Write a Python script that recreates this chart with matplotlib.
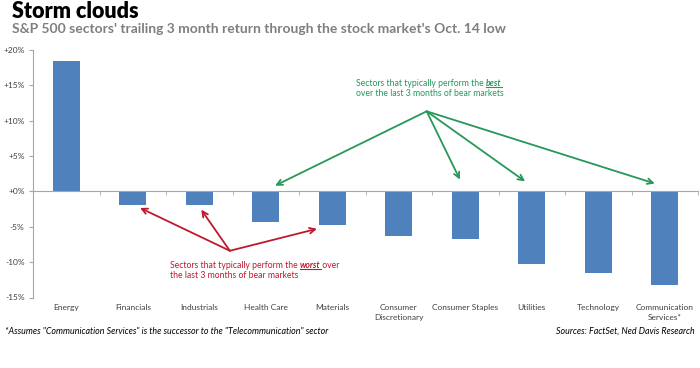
import matplotlib
matplotlib.use('Agg')
import matplotlib.pyplot as plt
from matplotlib.transforms import blended_transform_factory
from matplotlib.lines import Line2D
import numpy as np

categories = ["Energy", "Financials", "Industrials", "Health Care", "Materials",
              "Consumer\nDiscretionary", "Consumer Staples", "Utilities",
              "Technology", "Communication\nServices*"]
returns = [18.4, -1.9, -1.9, -4.3, -4.7, -6.3, -6.8, -10.2, -11.5, -13.2]
y_ticks = [-15, -10, -5, 0, 5, 10, 15, 20]
y_tick_labels = ['-15%', '-10%', '-5%', '+0%', '+5%', '+10%', '+15%', '+20%']

FONT = ['Lato', 'DejaVu Sans']
plt.rcParams['font.family'] = FONT

BAR = '#4F81BD'
AXIS = '#A6A6A6'
GREEN = '#25985A'
RED = '#C0182E'

W, H = 700, 368
fig = plt.figure(figsize=(W / 100, H / 100), dpi=100)
ax = fig.add_axes([33 / W, 1 - 297.5 / H, 665 / W, (297.5 - 49.7) / H])

x = np.arange(len(categories))
ax.bar(x, returns, width=0.4, color=BAR, zorder=2)
ax.set_xlim(-0.5, len(categories) - 0.5)
ax.set_ylim(y_ticks[0], y_ticks[-1])

# axes styling
for s in ['top', 'right']:
    ax.spines[s].set_visible(False)
ax.spines['left'].set_color(AXIS)
ax.spines['bottom'].set_color(AXIS)
ax.spines['bottom'].set_position(('data', 0))
ax.spines['bottom'].set_zorder(3)
ax.set_yticks(y_ticks)
ax.set_yticklabels(y_tick_labels)
ax.tick_params(axis='y', direction='out', length=3, color=AXIS, labelsize=6,
               labelcolor='#404040', pad=3)
ax.set_xticks(x)
ax.set_xticklabels([])
ax.tick_params(axis='x', which='major', length=0)
ax.set_xticks(np.arange(len(categories) + 1) - 0.5, minor=True)
ax.tick_params(axis='x', which='minor', direction='out', length=3, color=AXIS)

trans = blended_transform_factory(ax.transData, ax.transAxes)
for i, lab in enumerate(categories):
    ax.text(i, -0.025, lab, transform=trans, ha='center', va='top',
            fontsize=6, color='#404040', linespacing=1.5)

# titles
fig.text(12 / W, 1 - 1 / H, 'Storm clouds', fontsize=15.5, fontweight='heavy',
         color='#000000', ha='left', va='top')
fig.text(12 / W, 1 - 23 / H, "S&P 500 sectors' trailing 3 month return through the stock market's Oct. 14 low",
         fontsize=10, fontweight='bold', color='#7F7F7F', ha='left', va='top')

# green annotation
g_origin = (5.42, 11.3)
g_tips = [(3.14, 0.8), (5.92, 1.65), (6.90, 1.4), (8.85, 1.1)]
for tx, ty in g_tips:
    ax.annotate('', xy=(tx, ty), xytext=g_origin,
                arrowprops=dict(arrowstyle='->', color=GREEN, lw=1.3,
                                shrinkA=0, shrinkB=0, mutation_scale=10))
r_origin = (2.46, -8.4)
r_tips = [(1.11, -2.35), (2.03, -2.6), (3.77, -5.3)]
for tx, ty in r_tips:
    ax.annotate('', xy=(tx, ty), xytext=r_origin,
                arrowprops=dict(arrowstyle='->', color=RED, lw=1.3,
                                shrinkA=0, shrinkB=0, mutation_scale=10))

fs_note = 6.2
t1 = fig.text(356 / W, 1 - 83 / H, 'Sectors that typically perform the ',
              fontsize=fs_note, color=GREEN, ha='left', va='center')
t_best = fig.text(0, 0, 'best', fontsize=fs_note, color=GREEN,
                  fontweight='bold', fontstyle='italic', ha='left', va='center')
fig.text(356 / W, 1 - 94 / H, 'over the last 3 months of bear markets',
         fontsize=fs_note, color=GREEN, ha='left', va='center')

t2 = fig.text(170 / W, 1 - 265 / H, 'Sectors that typically perform the ',
              fontsize=fs_note, color=RED, ha='left', va='center')
t_worst = fig.text(0, 0, 'worst', fontsize=fs_note, color=RED,
                   fontweight='bold', fontstyle='italic', ha='left', va='center')
t_over = fig.text(0, 0, ' over', fontsize=fs_note, color=RED, ha='left', va='center')
fig.text(170 / W, 1 - 276 / H, 'the last 3 months of bear markets',
         fontsize=fs_note, color=RED, ha='left', va='center')

# footer
fig.text(5 / W, 1 - 331 / H,
         '*Assumes "Communication Services" is the successor to the "Telecommunication" sector',
         fontsize=6.4, fontstyle='italic', color='#000000', ha='left', va='center')
fig.text(695 / W, 1 - 331 / H, 'Sources: FactSet, Ned Davis Research',
         fontsize=6.4, fontstyle='italic', color='#000000', ha='right', va='center')

# chain the emphasised words after their lead-in text and underline them
fig.canvas.draw()
r = fig.canvas.get_renderer()
def place_after(prev, txt, cy):
    bb = prev.get_window_extent(r)
    txt.set_position((bb.x1 / W, cy))
    return txt
place_after(t1, t_best, 1 - 83 / H)
place_after(t2, t_worst, 1 - 265 / H)
fig.canvas.draw()
place_after(t_worst, t_over, 1 - 265 / H)
fig.canvas.draw()
for t, c in [(t_best, GREEN), (t_worst, RED)]:
    bb = t.get_window_extent(r)
    fig.add_artist(Line2D([bb.x0 / W, bb.x1 / W], [(bb.y0 + 0.5) / H] * 2,
                          transform=fig.transFigure, color=c, lw=0.8))

fig.savefig('out.png', dpi=100)
